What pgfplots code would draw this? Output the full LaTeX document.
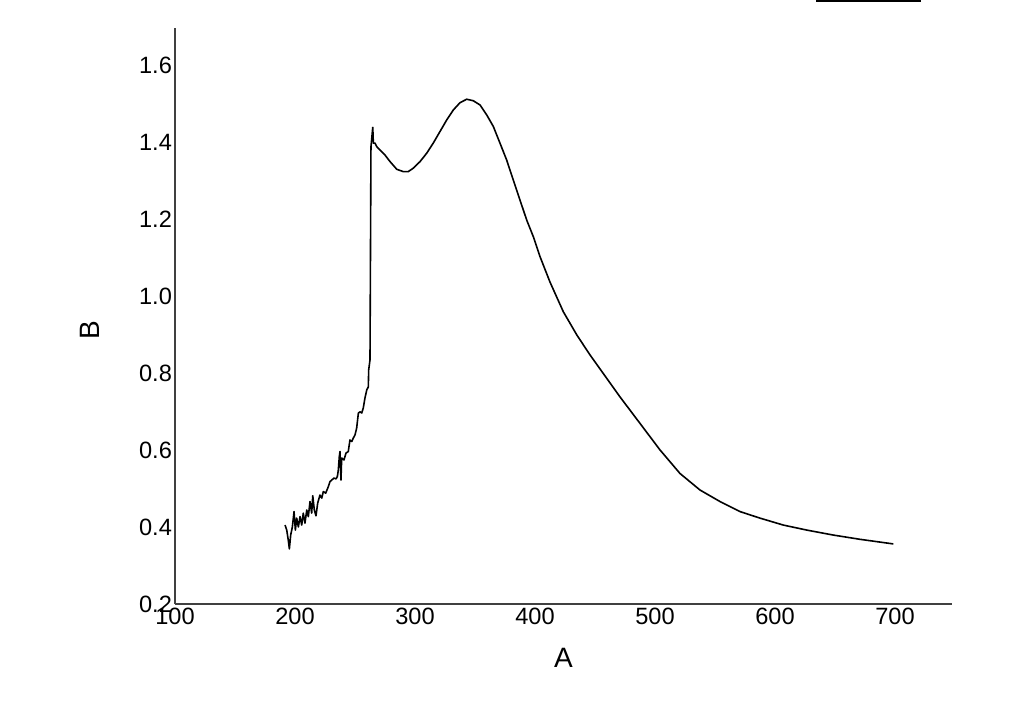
\documentclass[border=0pt]{standalone}
\usepackage{fontspec}
\setmainfont{Liberation Sans}
\usepackage{pgfplots}
\pgfplotsset{compat=1.18}
\begin{document}
\begin{tikzpicture}[x=1pt,y=1pt]
\path[use as bounding box, fill=white] (0,0) rectangle (512,358.5);
\begin{axis}[
  at={(87.5pt,56.5pt)}, anchor=south west,
  scale only axis, width=388.5pt, height=288pt,
  xmin=100, xmax=747.5, ymin=0.2, ymax=1.696,
  axis lines*=left,
  axis line style={black!75, line width=0.8pt},
  xtick={100,200,...,700}, ytick={0.2,0.4,...,1.6},
  major tick length=0pt,
  /pgf/number format/assume math mode=true,
  ticklabel style={font=\fontsize{11.8}{13}\selectfont, text=black},
  yticklabel style={/pgf/number format/.cd, fixed, fixed zerofill, precision=1, /tikz/.cd, xshift=2pt},
  xticklabel style={/pgf/number format/.cd, fixed, precision=0, 1000 sep={}, /tikz/.cd, yshift=1.5pt},
  xlabel={A}, ylabel={B},
  label style={font=\fontsize{14}{16}\selectfont},
  xlabel style={at={(axis description cs:0.5,-0.094)}, anchor=center},
  ylabel style={at={(axis description cs:-0.109,0.476)}, anchor=center, rotate=0},
  clip=false,
]
\addplot[black, line width=0.8pt, line join=round] coordinates {
(191.7,0.405) (193.1,0.392) (194.4,0.366) (195.3,0.343) (196.4,0.379) (197.8,0.400)
(199.2,0.440) (200.3,0.392) (201.4,0.423) (202.8,0.400) (204.2,0.427) (205.6,0.405)
(206.9,0.436) (208.3,0.410) (209.8,0.444) (211.1,0.427) (212.5,0.466) (213.9,0.436)
(214.8,0.481) (216.1,0.444) (217.5,0.429) (218.9,0.462) (220.8,0.483) (222.3,0.475)
(223.6,0.492) (225.6,0.488) (227.8,0.505) (229.2,0.518) (230.6,0.522) (232.5,0.527)
(234.2,0.525) (235.3,0.531) (236.1,0.548) (236.9,0.582) (237.5,0.596) (238.3,0.522)
(238.9,0.579) (240.8,0.574) (242.5,0.592) (244.4,0.596) (245.8,0.626) (247.3,0.622)
(248.6,0.631) (250.0,0.639) (251.4,0.657) (252.8,0.696) (254.2,0.699) (255.6,0.696)
(256.9,0.709) (258.3,0.735) (259.8,0.756) (261.1,0.764) (261.4,0.808) (262.5,0.834)
(263.3,1.387) (264.8,1.438) (265.3,1.397) (266.7,1.397) (268.1,1.388) (270.8,1.379)
(275.0,1.366) (279.2,1.349) (284.8,1.329) (290.2,1.323) (294.4,1.323) (298.6,1.332)
(304.2,1.349) (309.8,1.371) (315.2,1.397) (320.8,1.427) (326.4,1.457) (331.9,1.483)
(337.5,1.502) (343.1,1.511) (348.6,1.507) (354.2,1.496) (359.8,1.470) (365.3,1.440)
(370.8,1.397) (376.4,1.353) (381.9,1.301) (387.5,1.249) (393.1,1.197) (398.6,1.154)
(404.2,1.102) (412.5,1.036) (423.6,0.959) (434.8,0.899) (445.8,0.847) (459.8,0.786)
(470.8,0.738) (487.5,0.669) (504.2,0.600) (520.8,0.539) (537.5,0.496) (554.2,0.466)
(570.8,0.440) (587.5,0.423) (606.9,0.405) (626.4,0.392) (648.6,0.379) (670.8,0.368)
(698.6,0.356)
};
\draw[black, line width=1pt] (axis description cs:0.825,1.046) -- (axis description cs:0.960,1.046);
\end{axis}
\end{tikzpicture}
\end{document}
